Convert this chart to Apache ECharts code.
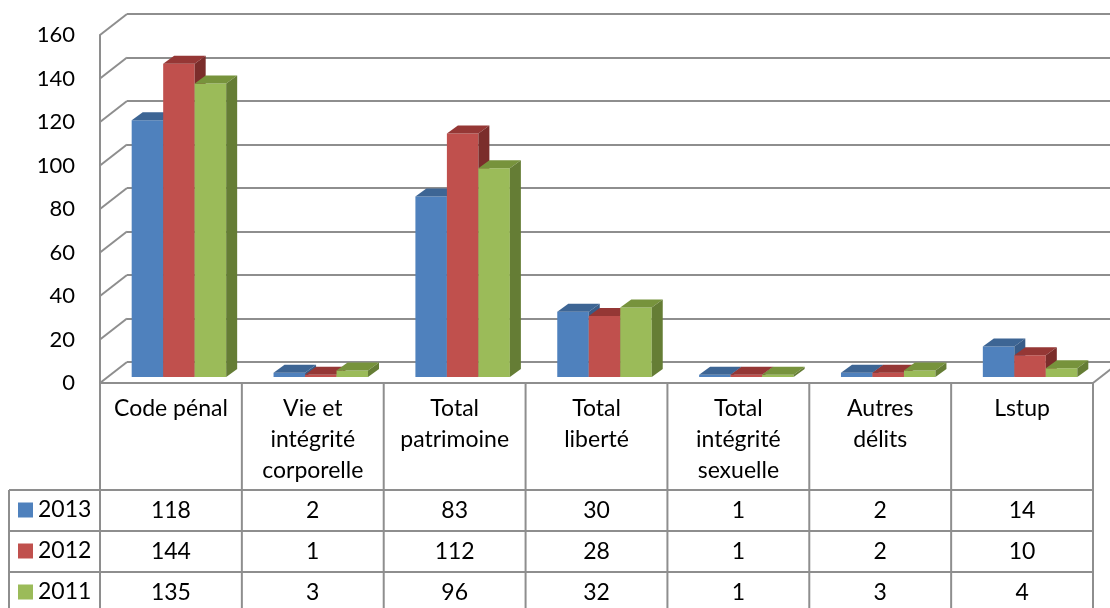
<!DOCTYPE html>
<html><head><meta charset="utf-8">
<script src="https://cdn.jsdelivr.net/npm/echarts@6/dist/echarts.min.js"></script>
<style>html,body{margin:0;padding:0;background:#fff}#c{width:1110px;height:608px}</style>
</head><body><div id="c"></div>
<script>
// ---- data ----
const categories = ['Code pénal', 'Vie et\nintégrité\ncorporelle', 'Total\npatrimoine', 'Total\nliberté', 'Total\nintégrité\nsexuelle', 'Autres\ndélits', 'Lstup'];
const years = ['2013', '2012', '2011'];
const s2013 = [118, 2, 83, 30, 1, 2, 14];
const s2012 = [144, 1, 112, 28, 1, 2, 10];
const s2011 = [135, 3, 96, 32, 1, 3, 4];
const yTicks = [0, 20, 40, 60, 80, 100, 120, 140, 160];

// ---- styles ----
const FONT = 'Lato';
const frontCol = ['#4F81BD', '#C0504D', '#9BBB59'];
const topCol = ['#3D6594', '#953735', '#77933C'];
const sideCol = ['#385C88', '#7B2D2B', '#657D35'];
const GRID = '#8E8E8E';
const WALL_DX = 27, WALL_DY = 21;   // depth of the box
const BAR_DX = 11, BAR_DY = 8;      // depth of a bar

const seriesVals = [s2013, s2012, s2011];
const yMin = yTicks[0], yMax = yTicks[yTicks.length - 1], yInt = yTicks[1] - yTicks[0];

function catAxis(idx, showLine) {
  return {
    type: 'category', gridIndex: idx, data: categories, boundaryGap: true,
    axisLine: { show: showLine, lineStyle: { color: GRID, width: 2 } },
    axisTick: { show: false }, axisLabel: { show: false }, splitLine: { show: false }
  };
}
function valAxis(idx, opts) {
  return Object.assign({
    type: 'value', gridIndex: idx, min: yMin, max: yMax, interval: yInt,
    axisLine: { show: false }, axisTick: { show: false }, axisLabel: { show: false },
    splitLine: { show: false }
  }, opts);
}

const barSeries = years.map((yr, k) => ({
  name: yr, type: 'custom', xAxisIndex: 2, yAxisIndex: 2, z: 3 + k, clip: false,
  itemStyle: { color: frontCol[k] },
  data: seriesVals[k].map((v, i) => [i, v]),
  renderItem: function (params, api) {
    const i = api.value(0), v = api.value(1);
    const topP = api.coord([i, v]);
    const baseP = api.coord([i, 0]);
    const bw = api.size([1, 0])[0];
    const w = bw * 0.222;
    const cx = topP[0] + (k - 1) * w;
    const x0 = cx - w / 2, x1 = cx + w / 2;
    const yt = topP[1], yb = baseP[1];
    return {
      type: 'group',
      children: [
        { type: 'rect', shape: { x: x0, y: yt, width: w, height: yb - yt }, style: { fill: frontCol[k] } },
        { type: 'polygon', shape: { points: [[x0, yt], [x1, yt], [x1 + BAR_DX, yt - BAR_DY], [x0 + BAR_DX, yt - BAR_DY]] }, style: { fill: topCol[k] } },
        { type: 'polygon', shape: { points: [[x1, yt], [x1 + BAR_DX, yt - BAR_DY], [x1 + BAR_DX, yb - BAR_DY], [x1, yb]] }, style: { fill: sideCol[k] } }
      ]
    };
  }
}));

const wallSeries = {
  type: 'custom', xAxisIndex: 0, yAxisIndex: 0, z: 1, clip: false, silent: true,
  data: yTicks.map(v => [0, v]),
  renderItem: function (params, api) {
    const cs = params.coordSys;
    const p = api.coord([0, api.value(1)]);
    const ls = { stroke: GRID, lineWidth: 2 };
    const ch = [{ type: 'line', shape: { x1: cs.x, y1: p[1], x2: cs.x + WALL_DX, y2: p[1] - WALL_DY }, style: ls }];
    if (api.value(1) === yMin) {
      const xr = cs.x + cs.width;
      ch.push({ type: 'line', shape: { x1: xr, y1: p[1], x2: xr + WALL_DX, y2: p[1] - WALL_DY }, style: ls });
    }
    return { type: 'group', children: ch };
  }
};

const tableSeries = {
  type: 'custom', xAxisIndex: 0, yAxisIndex: 0, z: 2, clip: false, silent: true,
  data: categories.map((c, i) => [i, s2013[i], s2012[i], s2011[i]]),
  renderItem: function (params, api) {
    const i = api.value(0);
    const base = api.coord([i, 0]);
    const bw = api.size([1, 0])[0];
    const xl = base[0] - bw / 2;
    const ls = { stroke: GRID, lineWidth: 2 };
    const ch = [
      { type: 'line', shape: { x1: xl, y1: base[1], x2: xl, y2: base[1] + 240 }, style: ls },
      { type: 'text', style: { text: categories[i], x: base[0], y: base[1] + 10, align: 'center', verticalAlign: 'top',
          font: '23px ' + FONT, lineHeight: 31, fill: '#000' } }
    ];
    if (i === categories.length - 1) {
      ch.push({ type: 'line', shape: { x1: xl + bw, y1: base[1], x2: xl + bw, y2: base[1] + 240 }, style: ls });
    }
    for (let r = 0; r < 3; r++) {
      ch.push({ type: 'text', style: { text: String(api.value(1 + r)), x: base[0], y: base[1] + 127.5 + r * 41,
        align: 'center', verticalAlign: 'middle', font: '23px ' + FONT, fill: '#000' } });
    }
    return { type: 'group', children: ch };
  }
};

const hl = (y) => ({ type: 'line', shape: { x1: 9, y1: y, x2: 1093, y2: y }, style: { stroke: GRID, lineWidth: 2 }, z: 10 });

const option = {
  animation: false,
  backgroundColor: '#fff',
  textStyle: { fontFamily: FONT },
  grid: [
    { left: 100, top: 35, width: 993, height: 348 },
    { left: 127, top: 14, width: 993, height: 348 },
    { left: 108, top: 29, width: 993, height: 348 }
  ],
  xAxis: [catAxis(0, true), catAxis(1, false), catAxis(2, false)],
  yAxis: [
    valAxis(0, { axisLine: { show: true, lineStyle: { color: GRID, width: 2 } },
      axisLabel: { show: true, color: '#000', fontSize: 22, fontFamily: FONT, margin: 25 } }),
    valAxis(1, { splitLine: { show: true, lineStyle: { color: GRID, width: 2 } } }),
    valAxis(2, {})
  ],
  legend: {
    data: years, orient: 'vertical', left: 18, top: 498, padding: 0,
    icon: 'rect', itemWidth: 15, itemHeight: 15, itemGap: 17, selectedMode: false,
    textStyle: { fontSize: 23, color: '#000', fontFamily: FONT, lineHeight: 24 }
  },
  graphic: [
    hl(490), hl(531), hl(572),
    { type: 'line', shape: { x1: 9, y1: 490, x2: 9, y2: 620 }, style: { stroke: GRID, lineWidth: 2 }, z: 10 }
  ],
  series: [wallSeries, tableSeries].concat(barSeries)
};

const chart = echarts.init(document.getElementById('c'), null, { renderer: 'canvas' });
chart.setOption(option);
</script>
</body></html>
